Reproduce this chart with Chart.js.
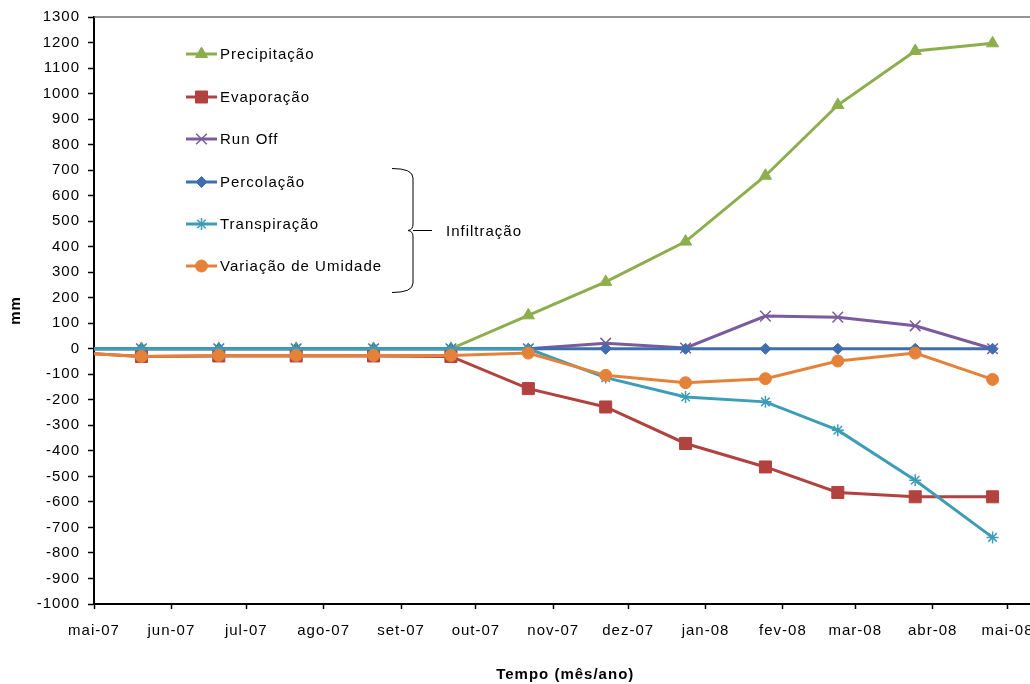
<!DOCTYPE html>
<html lang="pt">
<head>
    <meta charset="UTF-8">
    <title>Balanço hídrico acumulado</title>
    <script src="https://cdn.jsdelivr.net/npm/chart.js"></script>
    <style>
        html, body { margin: 0; padding: 0; background: #fff; overflow: hidden; }
        #myChart { display: block; }
    </style>
</head>
<body>
    <canvas id="myChart" width="1046" height="684"></canvas>

    <script>
        // datas das leituras (a primeira fica antes do eixo e é cortada)
        const sampleDates = ['2007-04-20', '2007-05-20', '2007-06-20', '2007-07-21', '2007-08-21', '2007-09-21',
            '2007-10-22', '2007-11-22', '2007-12-24', '2008-01-25', '2008-02-23', '2008-03-25', '2008-04-25'];

        // valores acumulados em mm
        const precipitacao = [0, 0, 0, 0, 0, 0, 131, 262, 420, 678, 955, 1167, 1197];
        const evaporacao = [-13, -30, -28, -28, -28, -30, -156, -228, -371, -463, -563, -580, -580];
        const runOff = [0, 0, 0, 0, 0, 0, 0, 22, 3, 128, 124, 90, 0];
        const percolacao = [0, 0, 0, 0, 0, 0, 0, 0, 0, 0, 0, 0, 0];
        const transpiracao = [0, 0, 0, 0, 0, 0, 0, -113, -189, -208, -319, -515, -739];
        const umidade = [-13, -30, -26, -26, -26, -26, -17, -104, -133, -117, -48, -17, -120];

        // marcas do eixo x (início de cada mês)
        const monthStarts = ['2007-05-01', '2007-06-01', '2007-07-01', '2007-08-01', '2007-09-01', '2007-10-01',
            '2007-11-01', '2007-12-01', '2008-01-01', '2008-02-01', '2008-03-01', '2008-04-01', '2008-05-01'];
        const monthLabels = ['mai-07', 'jun-07', 'jul-07', 'ago-07', 'set-07', 'out-07', 'nov-07',
            'dez-07', 'jan-08', 'fev-08', 'mar-08', 'abr-08', 'mai-08'];

        const origin = Date.UTC(2007, 4, 1);
        const toDay = s => (new Date(s).getTime() - origin) / 86400000;
        const dayX = sampleDates.map(toDay);
        const tickDays = monthStarts.map(toDay);

        const FONT = "'Liberation Sans', Arial, sans-serif";

        function series(label, values, color, style, radius, order) {
            return {
                label: label,
                data: values.map((v, i) => ({ x: dayX[i], y: v })),
                borderColor: color,
                backgroundColor: color,
                borderWidth: 3,
                pointStyle: style,
                pointRadius: radius,
                pointBorderWidth: (style === 'star' || style === 'crossRot') ? 1.5 : 1,
                pointBorderColor: color,
                pointBackgroundColor: color,
                tension: 0,
                order: order
            };
        }

        const datasets = [
            series('Precipitação', precipitacao, '#8DAE4C', 'triangle', 7, 6),
            series('Evaporação', evaporacao, '#B2423F', 'rect', 8.5, 5),
            series('Run Off', runOff, '#7A5C9C', 'crossRot', 7.5, 4),
            series('Percolação', percolacao, '#3E6EAD', 'rectRot', 5.5, 3),
            series('Transpiração', transpiracao, '#3D9DB7', 'star', 6, 2),
            series('Variação de Umidade', umidade, '#E5823A', 'circle', 6, 1)
        ];

        // texto um pouco mais espaçado, como no original
        const spacing = {
            id: 'spacing',
            beforeDraw(chart) {
                chart.ctx.letterSpacing = '1px';
            }
        };

        // legenda dentro da área do gráfico + chave "Infiltração"
        const overlay = {
            id: 'overlay',
            afterDraw(chart) {
                const ctx = chart.ctx;
                const area = chart.chartArea;
                ctx.save();
                // borda superior cinza
                ctx.strokeStyle = '#707070';
                ctx.lineWidth = 1.5;
                ctx.beginPath();
                ctx.moveTo(area.left, area.top);
                ctx.lineTo(area.right, area.top);
                ctx.stroke();

                const rowsY = [55, 98, 140, 183, 225, 267];
                ctx.font = '15px ' + FONT;
                ctx.textBaseline = 'middle';
                ctx.textAlign = 'left';
                datasets.forEach((ds, i) => {
                    const y = rowsY[i];
                    ctx.strokeStyle = ds.borderColor;
                    ctx.fillStyle = ds.borderColor;
                    ctx.lineWidth = 3;
                    ctx.beginPath();
                    ctx.moveTo(186, y - 1);
                    ctx.lineTo(217, y - 1);
                    ctx.stroke();
                    ctx.lineWidth = ds.pointBorderWidth;
                    Chart.helpers.drawPoint(ctx, {
                        pointStyle: ds.pointStyle,
                        radius: ds.pointRadius,
                        rotation: 0,
                        borderWidth: ds.pointBorderWidth
                    }, 201.5, y - 1);
                    ctx.fillStyle = '#000';
                    ctx.fillText(ds.label, 220, y);
                });

                // chave
                ctx.strokeStyle = '#000';
                ctx.lineWidth = 1;
                ctx.beginPath();
                ctx.moveTo(392, 168.5);
                ctx.quadraticCurveTo(413, 168.5, 413, 178);
                ctx.lineTo(413, 224);
                ctx.quadraticCurveTo(413, 230, 408, 230.5);
                ctx.quadraticCurveTo(413, 231, 413, 237);
                ctx.lineTo(413, 283);
                ctx.quadraticCurveTo(413, 292.5, 392, 292.5);
                ctx.stroke();
                ctx.beginPath();
                ctx.moveTo(413, 230.5);
                ctx.lineTo(432, 230.5);
                ctx.stroke();
                ctx.fillStyle = '#000';
                ctx.fillText('Infiltração', 446, 232);
                ctx.restore();
            }
        };

        const ctx = document.getElementById('myChart').getContext('2d');
        const myChart = new Chart(ctx, {
            type: 'line',
            data: { datasets: datasets },
            options: {
                responsive: false,
                animation: false,
                layout: { padding: { top: 16, right: 0, bottom: 0, left: 0 } },
                plugins: {
                    legend: { display: false },
                    tooltip: { enabled: false }
                },
                scales: {
                    x: {
                        type: 'linear',
                        min: 0,
                        max: 377.6,
                        afterBuildTicks: scale => {
                            scale.ticks = tickDays.map(v => ({ value: v }));
                        },
                        afterFit: scale => { scale.height = 80; },
                        grid: {
                            drawOnChartArea: false,
                            drawTicks: true,
                            tickLength: 5,
                            tickColor: '#000',
                            tickWidth: 1.5
                        },
                        border: { display: true, color: '#000', width: 2 },
                        ticks: {
                            autoSkip: false,
                            maxRotation: 0,
                            padding: 13,
                            color: '#000',
                            font: { family: FONT, size: 15 },
                            callback: (value, index) => monthLabels[index]
                        },
                        title: {
                            display: true,
                            text: 'Tempo (mês/ano)',
                            color: '#000',
                            font: { family: FONT, size: 15, weight: 'bold' },
                            padding: { top: 0, bottom: 0 }
                        }
                    },
                    y: {
                        min: -1000,
                        max: 1300,
                        afterFit: scale => { scale.width = 94; },
                        grid: {
                            drawOnChartArea: false,
                            drawTicks: true,
                            tickLength: 6,
                            tickColor: '#000',
                            tickWidth: 1.5
                        },
                        border: { display: true, color: '#000', width: 2 },
                        ticks: {
                            stepSize: 100,
                            padding: 8,
                            color: '#000',
                            font: { family: FONT, size: 15 },
                            callback: value => String(value)
                        },
                        title: {
                            display: true,
                            text: 'mm',
                            color: '#000',
                            font: { family: FONT, size: 15, weight: 'bold' },
                            padding: { top: 7, bottom: 0 }
                        }
                    }
                }
            },
            plugins: [spacing, overlay]
        });
    </script>
</body>
</html>
